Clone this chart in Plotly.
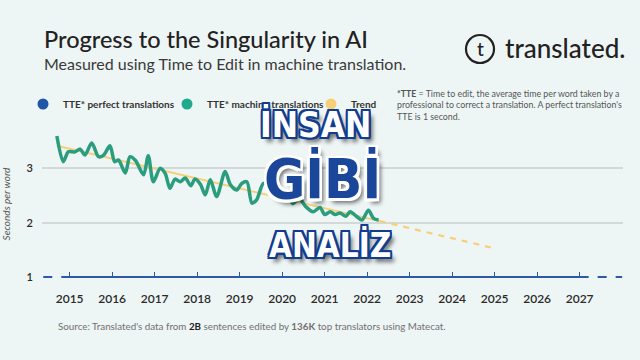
import plotly.graph_objects as go

# ---------------- data ----------------
machine_years = [2014.70, 2014.85, 2014.97, 2015.13, 2015.25, 2015.36, 2015.52, 2015.68, 2015.80,
                 2015.95, 2016.06, 2016.15, 2016.31, 2016.42, 2016.55, 2016.74, 2016.85, 2016.97,
                 2017.13, 2017.25, 2017.36, 2017.48, 2017.60, 2017.72, 2017.85, 2017.95, 2018.08,
                 2018.19, 2018.31, 2018.46, 2018.66, 2018.78, 2018.93, 2019.05, 2019.17, 2019.29,
                 2019.40, 2019.56, 2019.70, 2019.84, 2019.95, 2020.10, 2020.25, 2020.40, 2020.55,
                 2020.73, 2020.89, 2021.00, 2021.13, 2021.25, 2021.36, 2021.50, 2021.60, 2021.76,
                 2021.88, 2022.03, 2022.15, 2022.27]
machine_tte = [3.59, 3.12, 3.30, 3.30, 3.35, 3.24, 3.46, 3.21, 3.24,
               3.41, 3.12, 3.15, 2.91, 3.21, 3.14, 2.88, 3.23, 2.75,
               3.00, 2.90, 2.63, 2.80, 2.75, 2.82, 2.68, 2.80, 2.70,
               2.51, 2.79, 2.48, 2.94, 2.70, 2.60, 2.72, 2.75, 2.36,
               2.42, 2.72, 2.68, 2.62, 2.45, 2.55, 2.35, 2.45, 2.30,
               2.20, 2.28, 2.15, 2.20, 2.15, 2.18, 2.12, 2.20, 2.11,
               2.05, 2.23, 2.08, 2.05]

trend_years = [2014.70, 2022.30]
trend_tte = [3.41, 2.03]
projection_years = [2022.30, 2025.00]
projection_tte = [2.03, 1.53]

perfect_years = [2015, 2027]
perfect_tte = [1, 1]
perfect_left_years = [2014.38, 2015]
perfect_right_years = [2027, 2028.0]

year_ticks = [2015, 2016, 2017, 2018, 2019, 2020, 2021, 2022, 2023, 2024, 2025, 2026, 2027]
grid_ticks = [2, 3]
base_tick = [1]

legend_names = ["TTE* perfect translations", "TTE* machine translations", "Trend"]

# ---------------- style ----------------
BG = "#eef5f5"
BLUE = "#2b5aa6"
GREEN = "#2a9d7e"
YELLOW = "#f5d077"
DARK = "#222222"
FONT = "Lato, 'Open Sans', sans-serif"

W, H = 640, 360
L, R, T, B = 42, 17, 130, 82
PW, PH = W - L - R, H - T - B


def px(x):
    return (x - L) / PW


def py(y):
    return (H - B - y) / PH


fig = go.Figure()

# perfect translations
for xs, dash in [(perfect_left_years, "dash"), (perfect_years, "solid"), (perfect_right_years, "dash")]:
    fig.add_trace(go.Scatter(x=xs, y=[perfect_tte[0]] * len(xs), mode="lines",
                             line=dict(color=BLUE, width=2.5, dash=dash), showlegend=False,
                             hoverinfo="skip"))

# trend
fig.add_trace(go.Scatter(x=trend_years, y=trend_tte, mode="lines",
                         line=dict(color=YELLOW, width=2), showlegend=False))
fig.add_trace(go.Scatter(x=projection_years, y=projection_tte, mode="lines",
                         line=dict(color=YELLOW, width=2.2, dash="6px,6px"), showlegend=False))

# machine translations
fig.add_trace(go.Scatter(x=machine_years, y=machine_tte, mode="lines",
                         line=dict(color=GREEN, width=3.5, shape="spline", smoothing=0.8),
                         showlegend=False))

# legend entries (dots)
for name, col in zip(legend_names, ["#1f56a5", "#22a88a", YELLOW]):
    fig.add_trace(go.Scatter(x=[None], y=[None], mode="markers", name=name,
                             marker=dict(color=col, size=11, symbol="circle")))

# dummy trace for secondary y axis (label "1")
fig.add_trace(go.Scatter(x=[None], y=[None], yaxis="y2", showlegend=False))

fig.update_layout(
    width=W, height=H,
    margin=dict(l=L, r=R, t=T, b=B, autoexpand=False),
    paper_bgcolor=BG, plot_bgcolor=BG,
    font=dict(family=FONT, color=DARK),
    xaxis=dict(range=[2014.35, 2028.02], tickvals=year_ticks, ticks="inside", ticklen=6,
               tickwidth=1.3, tickcolor=BLUE, showgrid=False, zeroline=False, showline=False,
               automargin=False, ticklabelstandoff=12,
               tickfont=dict(size=12, color="#2a2a2a", weight=600)),
    yaxis=dict(range=[0.987, 3.70], tickvals=grid_ticks, showgrid=True, gridcolor="#d3d8d9",
               gridwidth=1.5, zeroline=False, showline=False, ticklabelstandoff=8,
               automargin=False,
               tickfont=dict(size=11, color="#2a2a2a", weight=600),
               title=dict(text="Seconds per word", standoff=16,
                          font=dict(size=10, color="#555555", style="italic"))),
    yaxis2=dict(range=[0.987, 3.70], tickvals=base_tick, overlaying="y", side="left",
                showgrid=False, zeroline=False, showline=False, ticklabelstandoff=8,
                automargin=False,
                tickfont=dict(size=11, color="#2a2a2a", weight=600)),
    legend=dict(orientation="h", x=px(23), y=py(104), xanchor="left", yanchor="middle",
                font=dict(size=10, color="#333333", weight="bold"), bgcolor="rgba(0,0,0,0)",
                itemclick=False, entrywidth=99, entrywidthmode="pixels"),
    showlegend=True,
)

ann = [
    dict(text="Progress to the Singularity in AI", x=px(42), y=py(39), xanchor="left",
         yanchor="middle", font=dict(size=23.5, color=DARK, weight=500)),
    dict(text="Measured using Time to Edit in machine translation.", x=px(42), y=py(63),
         xanchor="left", yanchor="middle", font=dict(size=16, color="#3a3a3a")),
    dict(text="translated.", x=px(503), y=py(48), xanchor="left", yanchor="middle",
         font=dict(size=26, color=DARK, weight=500)),
    dict(text="t", x=px(480), y=py(48), xanchor="center", yanchor="middle",
         font=dict(size=19, color=DARK, weight=500)),
    dict(text="<b>*TTE</b> = Time to edit, the average time per word taken by a<br>"
              "professional to correct a translation. A perfect translation's<br>"
              "TTE is 1 second.",
         x=px(395), y=py(86), xanchor="left", yanchor="top", align="left",
         font=dict(size=8.8, color="#555555")),
    dict(text="Source: Translated's data from <b style='color:#222'>2B</b> sentences edited by "
              "<b>136K</b> top translators using Matecat.",
         x=px(56), y=py(326), xanchor="left", yanchor="middle",
         font=dict(size=9.8, color="#707070")),
]

OV = "'Liberation Sans Narrow', 'DejaVu Sans Condensed', 'Arial Narrow', sans-serif"
NAVY = "#123d8f"


def outline(c, w=2):
    offs = [(w, 0), (-w, 0), (0, w), (0, -w), (w, w), (-w, -w), (w, -w), (-w, w)]
    s = ", ".join(f"{a}px {b}px 0 {c}" for a, b in offs)
    return s + ", 4px 5px 4px rgba(0,0,0,0.55)"


ann += [
    dict(text="İNSAN", x=px(315), y=py(124), xanchor="center", yanchor="middle",
         font=dict(size=35, family=OV, color="white", weight="bold", shadow=outline(NAVY))),
    dict(text="GİBİ", x=px(322), y=py(178), xanchor="center", yanchor="middle",
         font=dict(size=56, family=OV, color="#1a4799", weight="bold", shadow=outline("white", 2.5))),
    dict(text="ANALİZ", x=px(330), y=py(245), xanchor="center", yanchor="middle",
         font=dict(size=33, family=OV, color="white", weight="bold", shadow=outline(NAVY))),
]

for a in ann:
    a.update(xref="paper", yref="paper", showarrow=False)
fig.update_layout(annotations=ann)

fig.add_shape(type="circle", xref="paper", yref="paper",
              x0=px(466), x1=px(494), y0=py(35), y1=py(63),
              line=dict(color=DARK, width=2.2))

fig.write_html("out.html")
